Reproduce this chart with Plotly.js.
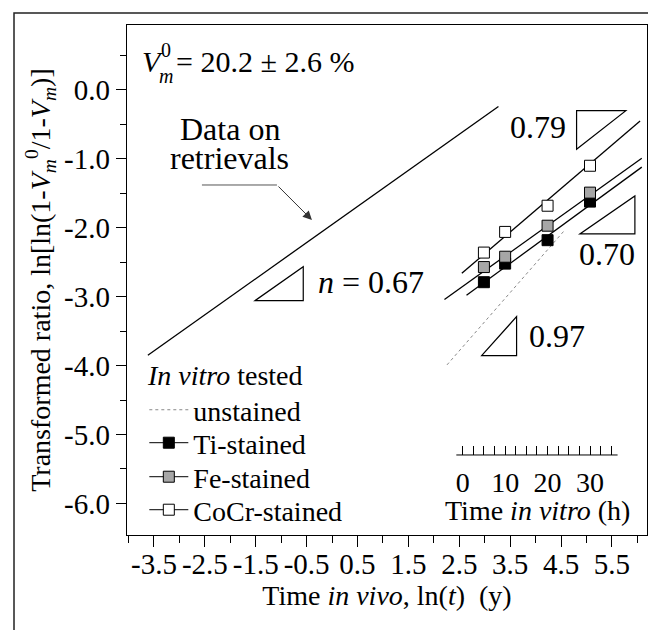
<!DOCTYPE html>
<html>
<head>
<meta charset="utf-8">
<script src="https://cdn.plot.ly/plotly-3.0.1.min.js"></script>
<style>
  html, body { margin: 0; padding: 0; background: #fff; }
  #chart { width: 648px; height: 630px; }
</style>
</head>
<body>
<div id="chart"></div>
<script>
// ---------- data ----------
const xTickVals = [-3.5, -2.5, -1.5, -0.5, 0.5, 1.5, 2.5, 3.5, 4.5, 5.5];
const xTickText = ["-3.5", "-2.5", "-1.5", "-0.5", "0.5", "1.5", "2.5", "3.5", "4.5", "5.5"];
const xMinorVals = [-4, -3, -2, -1, 0, 1, 2, 3, 4, 5, 6];
const yTickVals = [0, -1, -2, -3, -4, -5, -6];
const yTickText = ["0.0", "-1.0", "-2.0", "-3.0", "-4.0", "-5.0", "-6.0"];
const yMinorVals = [0.5, -0.5, -1.5, -2.5, -3.5, -4.5, -5.5, -6.5];
const vitroTickVals = [0, 10, 20, 30];
const vitroTickText = ["0", "10", "20", "30"];
const vitroMinorVals = [2.5, 5, 7.5, 12.5, 15, 17.5, 22.5, 25, 27.5, 32.5, 35];

// in vivo retrievals fit (x = ln t)
const retrievalLnT = [-3.62, 3.27];
const retrievalValues = [-3.85, -0.24];

// in vitro (x = hours)
const vitroHours = [5, 10, 20, 30];
const tiValues = [-2.79, -2.52, -2.18, -1.62];
const feValues = [-2.57, -2.42, -1.97, -1.49];
const cocrValues = [-2.36, -2.06, -1.68, -1.10];

const tiFitHours = [0.9, 42.2];
const tiFitValues = [-2.98, -1.12];
const feFitHours = [-4.3, 42.2];
const feFitValues = [-3.04, -0.99];
const cocrFitHours = [-0.2, 41.8];
const cocrFitValues = [-2.66, -0.45];
const unstainedHours = [-3.7, 24.1];
const unstainedValues = [-3.99, -2.03];

// ---------- helpers ----------
function isolate(arr) { // separate points by gaps so no connecting line is drawn
  const out = [];
  arr.forEach((v, i) => { if (i) out.push(null); out.push(v); });
  return out;
}
const FONT = '"Liberation Serif", "Times New Roman", Times, serif';

const lineStyle = {color: "#000", width: 1.3};
const traces = [
  {x: retrievalLnT, y: retrievalValues, xaxis: "x", yaxis: "y", mode: "lines",
   line: lineStyle, showlegend: false, hoverinfo: "skip"},
  {x: unstainedHours, y: unstainedValues, xaxis: "x2", yaxis: "y", mode: "lines",
   line: {color: "#888", width: 1, dash: "dot"}, name: "unstained", legend: "legend"},
  {x: tiFitHours, y: tiFitValues, xaxis: "x2", yaxis: "y", mode: "lines", line: lineStyle, showlegend: false},
  {x: feFitHours, y: feFitValues, xaxis: "x2", yaxis: "y", mode: "lines", line: lineStyle, showlegend: false},
  {x: cocrFitHours, y: cocrFitValues, xaxis: "x2", yaxis: "y", mode: "lines", line: lineStyle, showlegend: false},
  {x: isolate(vitroHours), y: isolate(tiValues), xaxis: "x2", yaxis: "y", mode: "lines+markers",
   connectgaps: false, line: {color: "#000", width: 1}, name: "Ti-stained", legend: "legend2",
   marker: {symbol: "square", size: 11, color: "#000", line: {color: "#000", width: 1}}},
  {x: isolate(vitroHours), y: isolate(feValues), xaxis: "x2", yaxis: "y", mode: "lines+markers",
   connectgaps: false, line: {color: "#000", width: 1}, name: "Fe-stained", legend: "legend3",
   marker: {symbol: "square", size: 11, color: "#a6a6a6", line: {color: "#000", width: 1}}},
  {x: isolate(vitroHours), y: isolate(cocrValues), xaxis: "x2", yaxis: "y", mode: "lines+markers",
   connectgaps: false, line: {color: "#000", width: 1}, name: "CoCr-stained", legend: "legend4",
   marker: {symbol: "square", size: 11, color: "#fff", line: {color: "#000", width: 1}}}
];

function tri(pts) {
  return "M" + pts.map(p => p[0] + "," + p[1]).join(" L") + " Z";
}
const triLine = {color: "#000", width: 1.2};

const legendBase = {
  x: 0.0333, xanchor: "left", yanchor: "middle", bgcolor: "rgba(0,0,0,0)",
  borderwidth: 0, itemwidth: 39,
  font: {family: FONT, size: 28, color: "#000"}
};

const layout = {
  width: 648, height: 630,
  margin: {l: 127, r: 1, t: 25, b: 95, pad: 0},
  paper_bgcolor: "#fff", plot_bgcolor: "#fff",
  font: {family: FONT, color: "#000", size: 28},
  showlegend: true,
  legend: Object.assign({}, legendBase, {y: 0.245}),
  legend2: Object.assign({}, legendBase, {y: 0.1804}),
  legend3: Object.assign({}, legendBase, {y: 0.1137}),
  legend4: Object.assign({}, legendBase, {y: 0.049}),
  xaxis: {
    range: [-4.03, 6.19], showgrid: false, zeroline: false,
    showline: true, linecolor: "#000", linewidth: 1.3, mirror: true,
    ticks: "outside", ticklen: 11, tickwidth: 1, tickcolor: "#000",
    tickmode: "array", tickvals: xTickVals, ticktext: xTickText, ticklabelstandoff: -8,
    tickfont: {family: FONT, size: 29, color: "#000"},
    minor: {tickmode: "array", tickvals: xMinorVals, ticks: "outside", ticklen: 7, tickwidth: 1, tickcolor: "#000"},
    title: {text: "Time <i>in vivo</i>, ln(<i>t</i>) \u00a0(y)", font: {family: FONT, size: 28, color: "#000"}, standoff: 6}
  },
  xaxis2: {
    overlaying: "x", anchor: "free", position: 0.1569, side: "bottom",
    range: [-79.1, 43.43], showgrid: false, zeroline: false, showline: false,
    ticks: "inside", ticklen: 9, tickwidth: 1, tickcolor: "#000",
    tickmode: "array", tickvals: vitroTickVals, ticktext: vitroTickText, ticklabelstandoff: 8,
    tickfont: {family: FONT, size: 28, color: "#000"},
    minor: {tickmode: "array", tickvals: vitroMinorVals, ticks: "inside", ticklen: 9, tickwidth: 1, tickcolor: "#000"}
  },
  yaxis: {
    range: [-6.459, 0.943], showgrid: false, zeroline: false,
    showline: true, linecolor: "#000", linewidth: 1.3, mirror: true,
    ticks: "outside", ticklen: 10, tickwidth: 1, tickcolor: "#000",
    tickmode: "array", tickvals: yTickVals, ticktext: yTickText,
    tickfont: {family: FONT, size: 29, color: "#000"},
    minor: {tickmode: "array", tickvals: yMinorVals, ticks: "outside", ticklen: 6, tickwidth: 1, tickcolor: "#000"},
    title: {text: "Transformed ratio, ln[ln(1-<i>V</i><sub><i>m</i></sub><sup>0</sup>/1-<i>V</i><sub><i>m</i></sub>)]",
            font: {family: FONT, size: 28, color: "#000"}, standoff: 5}
  },
  shapes: [
    {type: "rect", xref: "paper", yref: "paper", x0: -0.2173, x1: 1.5, y0: 1.0235, y1: -0.5,
     line: {color: "#222", width: 1.5}, fillcolor: "rgba(0,0,0,0)"},
    {type: "line", xref: "x2", yref: "paper", x0: -1.5, x1: 36.5, y0: 0.1569, y1: 0.1569,
     line: {color: "#000", width: 1}},
    {type: "line", xref: "x", yref: "y", x0: -2.557, x1: -1.083, y0: -1.379, y1: -1.379,
     line: {color: "#555", width: 1}},
    {type: "path", xref: "x", yref: "y", path: tri([[-1.515, -3.058], [-0.566, -3.058], [-0.566, -2.565]]), line: triLine},
    {type: "path", xref: "x", yref: "y", path: tri([[4.806, -0.300], [5.775, -0.300], [4.806, -0.861]]), line: triLine},
    {type: "path", xref: "x", yref: "y", path: tri([[4.871, -2.090], [5.952, -2.090], [5.952, -1.538]]), line: triLine},
    {type: "path", xref: "x", yref: "y", path: tri([[2.940, -3.856], [3.627, -3.856], [3.627, -3.290]]), line: triLine}
  ],
  annotations: [
    {xref: "paper", yref: "paper", x: 0.025, y: 0.9275, xanchor: "left", yanchor: "middle",
     text: "<i>V</i>", showarrow: false, font: {family: FONT, size: 30}},
    {xref: "paper", yref: "paper", x: 0.075, y: 0.951, xanchor: "center", yanchor: "middle",
     text: "0", showarrow: false, font: {family: FONT, size: 20}},
    {xref: "paper", yref: "paper", x: 0.075, y: 0.900, xanchor: "center", yanchor: "middle",
     text: "<i>m</i>", showarrow: false, font: {family: FONT, size: 20}},
    {xref: "paper", yref: "paper", x: 0.0904, y: 0.9275, xanchor: "left", yanchor: "middle",
     text: "= 20.2 ± 2.6 %", showarrow: false, font: {family: FONT, size: 30}},
    {xref: "x", yref: "y", x: -2.006, y: -0.566, text: "Data on", showarrow: false, font: {family: FONT, size: 32}},
    {xref: "x", yref: "y", x: -2.006, y: -0.987, text: "retrievals", showarrow: false, font: {family: FONT, size: 32}},
    {xref: "x", yref: "y", x: -0.395, y: -1.887, ax: -35, ay: -35, text: "", showarrow: true,
     arrowhead: 2, arrowsize: 1.8, arrowwidth: 1, arrowcolor: "#333"},
    {xref: "x", yref: "y", x: 0.765, y: -2.787, text: "<i>n</i> = 0.67", showarrow: false, font: {family: FONT, size: 32}},
    {xref: "x", yref: "y", x: 4.046, y: -0.537, text: "0.79", showarrow: false, font: {family: FONT, size: 32}},
    {xref: "x", yref: "y", x: 5.402, y: -2.380, text: "0.70", showarrow: false, font: {family: FONT, size: 32}},
    {xref: "x", yref: "y", x: 4.419, y: -3.570, text: "0.97", showarrow: false, font: {family: FONT, size: 32}},
    {xref: "paper", yref: "paper", x: 0.0346, y: 0.3118, xanchor: "left", yanchor: "middle",
     text: "<i>In vitro</i> tested", showarrow: false, font: {family: FONT, size: 28}},
    {xref: "paper", yref: "paper", x: 0.7894, y: 0.049, xanchor: "center", yanchor: "middle",
     text: "Time <i>in vitro</i> (h)", showarrow: false, font: {family: FONT, size: 28}}
  ]
};

Plotly.newPlot("chart", traces, layout, {displayModeBar: false, staticPlot: true});
</script>
</body>
</html>
